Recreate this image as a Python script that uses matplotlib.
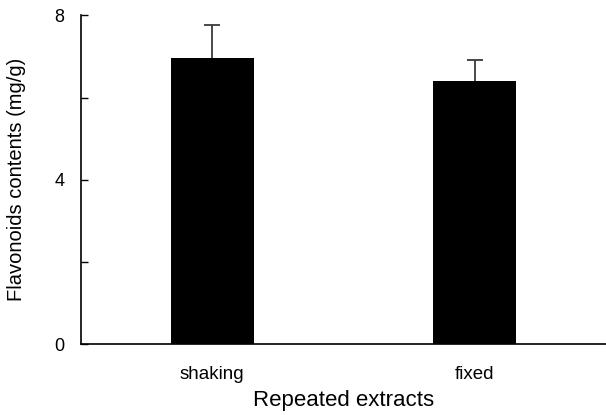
import matplotlib
matplotlib.use("Agg")
import matplotlib.pyplot as plt
import numpy as np
from matplotlib.ticker import MultipleLocator

categories = ["shaking", "fixed"]
values = [6.97, 6.41]
errors = [0.80, 0.51]

plt.rcParams['font.family'] = ['Liberation Sans', 'DejaVu Sans']

fig = plt.figure(figsize=(6.06, 4.15), dpi=100)
ax = fig.add_axes([81/606, 1-344/415, 1-81/606, (344-15.5)/415])

x = list(range(len(categories)))
ax.bar(x, values, width=0.316, color='black', zorder=2)
eb = ax.errorbar(x, values, yerr=[[0]*len(errors), errors], fmt='none',
                 ecolor='#3a3a3a', elinewidth=1.3, capsize=5.5, capthick=1.3, zorder=3)
for cl in eb[1]:
    if np.allclose(np.asarray(cl.get_ydata(), float), values):
        cl.set_visible(False)

ax.set_xlim(-0.5, 1.5)
ax.set_ylim(0, 8)
ax.set_xticks(x)
ax.set_xticklabels(categories, fontsize=13.5)
ax.yaxis.set_major_locator(MultipleLocator(4))
ax.yaxis.set_minor_locator(MultipleLocator(2))
ax.tick_params(axis='y', which='both', direction='in', length=5, width=1, labelsize=13, pad=12)
ax.tick_params(axis='x', which='both', length=0, pad=16)

for s in ['top', 'right']:
    ax.spines[s].set_visible(False)
for s in ['left', 'bottom']:
    ax.spines[s].set_linewidth(1.2)

ax.set_xlabel("Repeated extracts", fontsize=16, labelpad=5)
ax.set_ylabel("Flavonoids contents (mg/g)", fontsize=14.5, labelpad=20)

fig.savefig("out.png", dpi=100)
